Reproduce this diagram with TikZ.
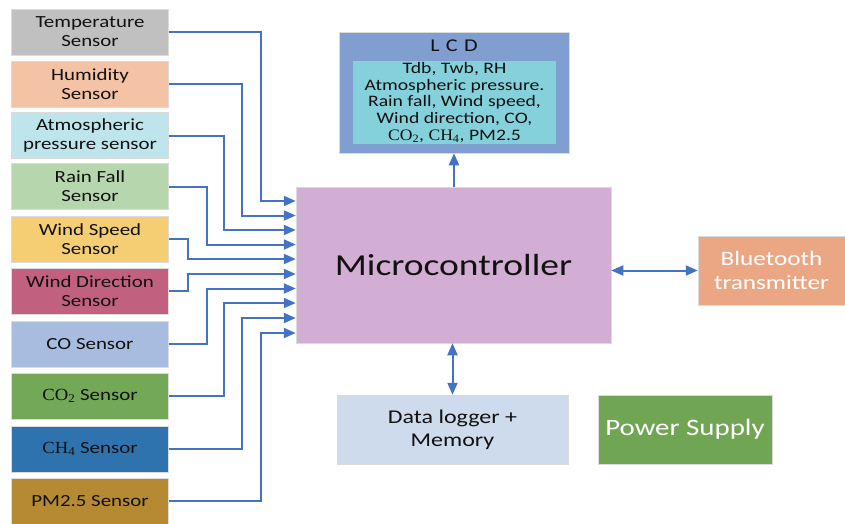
\documentclass[tikz,border=0pt]{standalone}
\usepackage{fontspec}
\setmainfont[FakeStretch=1.23]{Carlito}
\newfontfamily\chemfont[FakeStretch=1.1]{Liberation Serif}
\usetikzlibrary{arrows.meta}

% fills
\definecolor{lineblue}{HTML}{4472C4}
\definecolor{cTemp}{HTML}{C0C0C0}
\definecolor{cHum}{HTML}{F4C2A5}
\definecolor{cAtm}{HTML}{BEE5EC}
\definecolor{cRain}{HTML}{B6D7AE}
\definecolor{cWS}{HTML}{F5CD73}
\definecolor{cWD}{HTML}{C1617F}
\definecolor{cCO}{HTML}{A7BCDF}
\definecolor{cCOtwo}{HTML}{72A856}
\definecolor{cCH}{HTML}{2F73AE}
\definecolor{cPM}{HTML}{B58A33}
\definecolor{cMC}{HTML}{D3AED4}
\definecolor{cLCDo}{HTML}{809ECF}
\definecolor{cLCDi}{HTML}{85D1DB}
\definecolor{cBT}{HTML}{EBA783}
\definecolor{cDL}{HTML}{CEDBEC}
\definecolor{cPS}{HTML}{70A653}
\definecolor{ink}{HTML}{111111}

\newcommand{\chem}[2]{{\chemfont #1\textsubscript{#2}}}

\begin{document}
\begin{tikzpicture}[x=1pt,y=-1pt,
  box/.style={rectangle, draw=black!14, line width=0.5pt, inner sep=0pt,
    align=center, text=ink},
  sensor/.style={box, minimum width=157pt, minimum height=46pt,
    font=\fontsize{17}{19}\selectfont},
  conn/.style={draw=lineblue, line width=2pt, -{Triangle[length=12pt,width=10pt]}},
  bidir/.style={draw=lineblue, line width=2pt,
    {Triangle[length=12pt,width=10pt]}-{Triangle[length=12pt,width=10pt]}}]

\useasboundingbox (0,0) rectangle (845,523);

% sensor column
\node[sensor, fill=cTemp] (temp) at (90,32)    {Temperature\\Sensor};
\node[sensor, fill=cHum]  (hum)  at (90,84)    {Humidity\\Sensor};
\node[sensor, fill=cAtm]  (atm)  at (90,135.5) {Atmospheric\\pressure sensor};
\node[sensor, fill=cRain] (rain) at (90,186.5) {Rain Fall\\Sensor};
\node[sensor, fill=cWS]   (ws)   at (90,239)   {Wind Speed\\Sensor};
\node[sensor, fill=cWD]   (wd)   at (90,291)   {Wind Direction\\Sensor};
\node[sensor, fill=cCO]   (co)   at (90,344)   {CO Sensor};
\node[sensor, fill=cCOtwo](cotwo) at (90,396)  {\chem{CO}{2} Sensor};
\node[sensor, fill=cCH]   (ch)   at (90,449)   {\chem{CH}{4} Sensor};
\node[sensor, fill=cPM]   (pm)   at (90,501)   {PM2.5 Sensor};

% microcontroller
\node[box, fill=cMC, minimum width=315pt, minimum height=156pt,
  font=\fontsize{30.5}{34}\selectfont] (mc) at (453.5,265) {Microcontroller};

% display
\node[box, fill=cLCDo, minimum width=230pt, minimum height=121pt] (lcd) at (454,92.5) {};
\node[text=ink, font=\fontsize{18}{20}\selectfont, inner sep=0pt] (lcdt) at (454,46) {L\hspace{0.35em}C\hspace{0.35em}D};
\node[box, draw=none, fill=cLCDi, minimum width=203pt, minimum height=83pt,
  font=\fontsize{16}{16.7}\selectfont] (lcdin) at (454.5,102.5)
  {Tdb, Twb, RH\\Atmospheric pressure.\\Rain fall, Wind speed,\\Wind direction, CO,\\\chem{CO}{2}, \chem{CH}{4}, PM2.5};

% peripherals
\node[box, fill=cBT, text=white, minimum width=147pt, minimum height=69pt,
  font=\fontsize{20.5}{24}\selectfont] (bt) at (771.5,270.5) {Bluetooth\\transmitter};
\node[box, fill=cDL, minimum width=231pt, minimum height=69pt,
  font=\fontsize{19.5}{23}\selectfont] (dl) at (452.5,429.5) {Data logger +\\Memory};
\node[box, fill=cPS, text=white, minimum width=174pt, minimum height=69pt,
  font=\fontsize{23.5}{26}\selectfont] (ps) at (685,429.5) {Power Supply};

% sensor buses into the microcontroller
\draw[conn] (temp.east)  -| (261,201)   -- (mc.west |- 0,201);
\draw[conn] (hum.east)   -| (242,215.5) -- (mc.west |- 0,215.5);
\draw[conn] (atm.east)   -| (224,230)   -- (mc.west |- 0,230);
\draw[conn] (rain.east)  -| (207,244.5) -- (mc.west |- 0,244.5);
\draw[conn] (ws.east)    -| (188,259)   -- (mc.west |- 0,259);
\draw[conn] (wd.east)    -| (188,274)   -- (mc.west |- 0,274);
\draw[conn] (co.east)    -| (207,288.5) -- (mc.west |- 0,288.5);
\draw[conn] (cotwo.east) -| (224,303)   -- (mc.west |- 0,303);
\draw[conn] (ch.east)    -| (242,318)   -- (mc.west |- 0,318);
\draw[conn] (pm.east)    -| (261,333)   -- (mc.west |- 0,333);

% outputs
\draw[conn]  (lcd.south |- mc.north) -- (lcd.south);
\draw[bidir] (mc.east |- bt.west) -- (bt.west);
\draw[bidir] (dl.north |- mc.south) -- (dl.north);
\end{tikzpicture}
\end{document}
